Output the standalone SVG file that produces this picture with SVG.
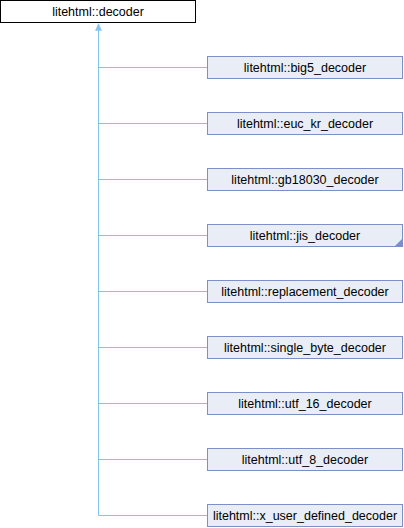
<svg xmlns="http://www.w3.org/2000/svg" width="404" height="528" viewBox="0 0 404 528">
<style>
.base{fill:#ffffff;stroke:#000000;stroke-width:1}
.node{fill:#e8edf6;stroke:#7b8fc8;stroke-width:1}
.lbl{font-family:"Liberation Sans",Arial,sans-serif;font-size:12.5px;fill:#000000;text-anchor:middle}
.edge{fill:none;stroke:#82c4ef;stroke-width:1}
</style>
<g id="connectors">
<path class="edge" d="M98.5,515.5 V26"/>
<path d="M95.5,30.5 L98.5,23.5 L101.5,30.5 Z" fill="#82c4ef" stroke="#82c4ef" stroke-width="0.5"/>
<path class="edge" d="M98.5,67.5 H207.5"/>
<path class="edge" d="M98.5,123.5 H207.5"/>
<path class="edge" d="M98.5,179.5 H207.5"/>
<path class="edge" d="M98.5,235.5 H207.5"/>
<path class="edge" d="M98.5,291.5 H207.5"/>
<path class="edge" d="M98.5,347.5 H207.5"/>
<path class="edge" d="M98.5,403.5 H207.5"/>
<path class="edge" d="M98.5,459.5 H207.5"/>
<path class="edge" d="M98.5,515.5 H207.5"/>
</g>
<g id="decoder">
<rect class="base" x="0.5" y="0.5" width="195" height="22"/>
<text class="lbl" x="98" y="15.5">litehtml::decoder</text>
</g>
<g id="big5_decoder">
<rect class="node" x="207.5" y="56.5" width="195" height="22"/>
<text class="lbl" x="305" y="71.5">litehtml::big5_decoder</text>
</g>
<g id="euc_kr_decoder">
<rect class="node" x="207.5" y="112.5" width="195" height="22"/>
<text class="lbl" x="305" y="127.5">litehtml::euc_kr_decoder</text>
</g>
<g id="gb18030_decoder">
<rect class="node" x="207.5" y="168.5" width="195" height="22"/>
<text class="lbl" x="305" y="183.5">litehtml::gb18030_decoder</text>
</g>
<g id="jis_decoder">
<rect class="node" x="207.5" y="224.5" width="195" height="22"/>
<path d="M402.5,238.5 L402.5,246.5 L394.5,246.5 Z" fill="#7b8fc8"/>
<text class="lbl" x="305" y="239.5">litehtml::jis_decoder</text>
</g>
<g id="replacement_decoder">
<rect class="node" x="207.5" y="280.5" width="195" height="22"/>
<text class="lbl" x="305" y="295.5">litehtml::replacement_decoder</text>
</g>
<g id="single_byte_decoder">
<rect class="node" x="207.5" y="336.5" width="195" height="22"/>
<text class="lbl" x="305" y="351.5">litehtml::single_byte_decoder</text>
</g>
<g id="utf_16_decoder">
<rect class="node" x="207.5" y="392.5" width="195" height="22"/>
<text class="lbl" x="305" y="407.5">litehtml::utf_16_decoder</text>
</g>
<g id="utf_8_decoder">
<rect class="node" x="207.5" y="448.5" width="195" height="22"/>
<text class="lbl" x="305" y="463.5">litehtml::utf_8_decoder</text>
</g>
<g id="x_user_defined_decoder">
<rect class="node" x="207.5" y="504.5" width="195" height="22"/>
<text class="lbl" x="305" y="519.5">litehtml::x_user_defined_decoder</text>
</g>
</svg>
